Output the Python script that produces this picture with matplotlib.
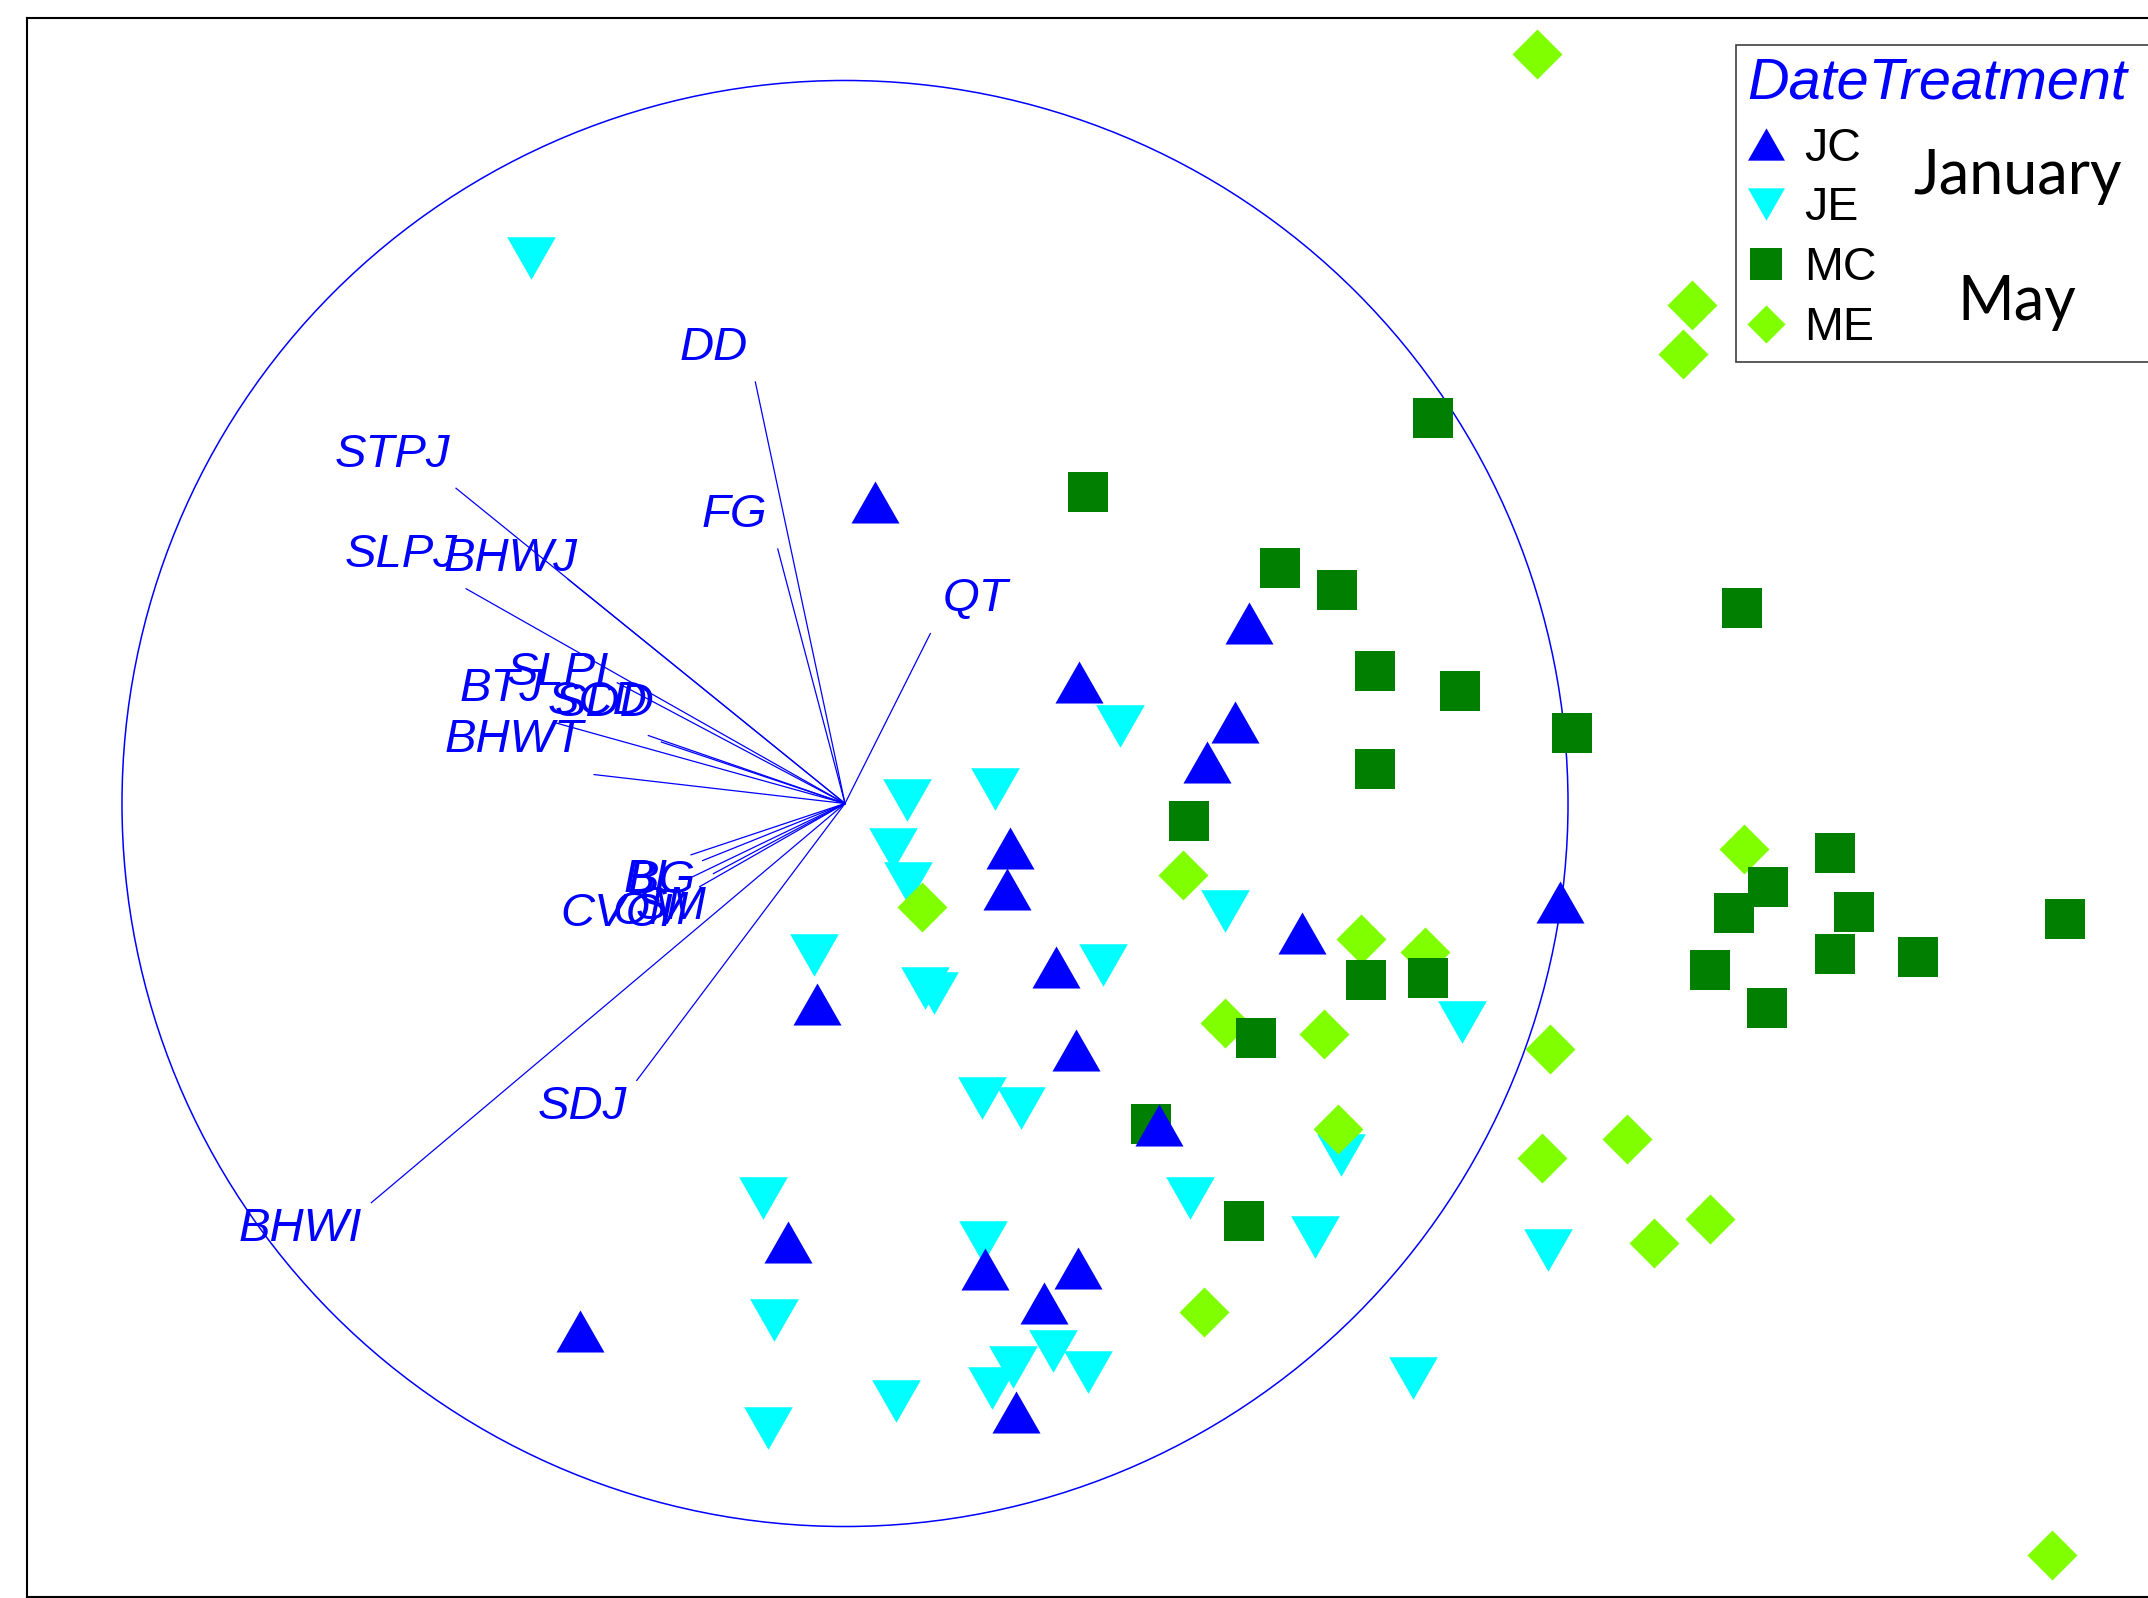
import matplotlib.pyplot as plt
from matplotlib.lines import Line2D
from matplotlib.patches import Circle

# nMDS scores for each date x treatment group
jc_x = [0.041, 0.559, 0.324, 0.539, 0.500, 0.228, 0.224, 0.989, 0.632, 0.292,
        -0.039, 0.319, 0.434, -0.079, 0.194, 0.322, 0.275, -0.367, 0.236]
jc_y = [0.417, 0.249, 0.168, 0.113, 0.058, -0.062, -0.118, -0.136, -0.179, -0.226,
        -0.277, -0.341, -0.445, -0.607, -0.644, -0.642, -0.691, -0.730, -0.842]

je_x = [-0.434, 0.381, 0.086, 0.207, 0.067, 0.087, 0.525, -0.043, 0.357, 0.110,
        0.123, 0.854, 0.190, 0.243, 0.686, 0.477, -0.113, 0.650, 0.191, 0.972,
        -0.098, 0.288, 0.233, 0.336, 0.203, 0.070, -0.106, 0.786]
je_y = [0.755, 0.107, 0.005, 0.020, -0.063, -0.110, -0.149, -0.209, -0.223, -0.255,
        -0.262, -0.302, -0.408, -0.421, -0.486, -0.545, -0.545, -0.600, -0.606, -0.617,
        -0.715, -0.757, -0.779, -0.786, -0.808, -0.826, -0.864, -0.795]

mc_x = [0.813, 0.336, 0.602, 0.681, 1.241, 0.733, 0.850, 1.006, 0.733, 0.476,
        1.369, 1.277, 1.395, 1.230, 1.688, 1.369, 1.484, 1.197, 1.275, 0.721,
        0.807, 0.568, 0.423, 0.552]
mc_y = [0.533, 0.431, 0.326, 0.295, 0.270, 0.183, 0.156, 0.098, 0.048, -0.024,
        -0.069, -0.116, -0.150, -0.152, -0.160, -0.208, -0.213, -0.230, -0.283, -0.244,
        -0.241, -0.324, -0.443, -0.577]

me_x = [0.957, 1.171, 1.159, 1.244, 0.468, 0.106, 0.713, 0.802, 0.525, 0.663,
        0.975, 0.682, 1.082, 0.964, 1.197, 1.119, 0.497, 1.670]
me_y = [1.037, 0.689, 0.622, -0.063, -0.099, -0.143, -0.188, -0.205, -0.304, -0.319,
        -0.339, -0.450, -0.464, -0.490, -0.575, -0.608, -0.703, -1.040]

# environmental variable correlations (vector overlay)
vec_names = ["DD", "FG", "QT", "STPJ", "BHWJ", "SLPJ", "SLPI", "BTJ", "SCD", "SDD",
             "BHWT", "BL", "BG", "CVCI", "OM", "SM", "SDJ", "BHWI"]
vec_x = [-0.124, -0.093, 0.118, -0.538, -0.383, -0.524, -0.315, -0.402, -0.272, -0.254,
         -0.347, -0.213, -0.197, -0.210, -0.182, -0.201, -0.288, -0.655]
vec_y = [0.583, 0.352, 0.235, 0.436, 0.310, 0.297, 0.167, 0.112, 0.094, 0.085,
         0.040, -0.071, -0.079, -0.101, -0.097, -0.115, -0.383, -0.552]

# label placement relative to vector tips, in pixels
label_offsets = [(-42, 34), (-43, 34), (45, 35), (-64, 33), (-58, 20), (-65, 34),
                 (-59, 10), (-53, 34), (-51, 34), (-57, 38), (-80, 35), (-39, -25),
                 (-41, -20), (-76, -37), (-63, -38), (-29, -20), (-54, -27), (-71, -26)]

groups = ["JC", "JE", "MC", "ME"]
months = ["January", "May"]

UP = [(0, 0.875), (-1, -0.875), (1, -0.875)]
DOWN = [(0, -0.875), (-1, 0.875), (1, 0.875)]
SQUARE = [(-1, -1), (1, -1), (1, 1), (-1, 1)]
DIAMOND = [(0, 1), (1, 0), (0, -1), (-1, 0)]

fig = plt.figure(figsize=(21.48, 15.98), dpi=100)
ax = fig.add_axes([0.0128, 0.000626, 0.99744, 0.98842])
ax.set_xlim(-1.1307, 1.8326)
ax.set_ylim(-1.0975, 1.0871)
ax.set_xticks([])
ax.set_yticks([])
for sp in ax.spines.values():
    sp.set_linewidth(1.5)
    sp.set_color("black")

ax.add_patch(Circle((0, 0), 1.0, fill=False, ec="#0000ff", lw=1.1, zorder=1))

for name, vx, vy, off in zip(vec_names, vec_x, vec_y, label_offsets):
    ax.plot([0, vx], [0, vy], color="#0000ff", lw=0.9, zorder=1)
    ax.annotate(name, (vx, vy), xytext=off, textcoords="offset pixels",
                ha="center", va="center", color="#0000ff", fontsize=34,
                family="Liberation Sans", style="italic", zorder=1)

ax.plot(je_x, je_y, ls="none", marker=DOWN, ms=35, mew=0, color="#00ffff", zorder=2)
ax.plot(me_x, me_y, ls="none", marker=DIAMOND, ms=36, mew=0, color="#80ff00", zorder=3)
ax.plot(mc_x, mc_y, ls="none", marker=SQUARE, ms=28.8, mew=0, color="#007f00", zorder=4)
ax.plot(jc_x, jc_y, ls="none", marker=UP, ms=34.6, mew=0, color="#0000ff", zorder=5)

handles = [
    Line2D([], [], ls="none", marker=UP, ms=26.6, mew=0, color="#0000ff"),
    Line2D([], [], ls="none", marker=DOWN, ms=26.6, mew=0, color="#00ffff"),
    Line2D([], [], ls="none", marker=SQUARE, ms=23, mew=0, color="#007f00"),
    Line2D([], [], ls="none", marker=DIAMOND, ms=27.4, mew=0, color="#80ff00"),
]
leg = fig.legend(handles, groups, title="DateTreatment", loc="upper left",
                 bbox_to_anchor=(0.8082, 0.5, 0.25, 0.4718),
                 bbox_transform=fig.transFigure, mode="expand", borderaxespad=0,
                 borderpad=0.25, handlelength=0.79, handletextpad=0.43,
                 labelspacing=0.34, alignment="left", fancybox=False,
                 edgecolor="#404040", framealpha=1,
                 prop={"family": "Liberation Sans", "size": 33.5},
                 title_fontproperties={"family": "Liberation Sans",
                                       "style": "italic", "size": 41.5})
leg.get_title().set_color("#0000ff")
leg.get_frame().set_linewidth(1.2)

for month, y_px in zip(months, [194, 320]):
    fig.text(2017 / 2148, 1 - y_px / 1598, month, ha="center", va="baseline",
             fontsize=44, family="Lato", zorder=10)

fig.savefig("out.png", dpi=100)
